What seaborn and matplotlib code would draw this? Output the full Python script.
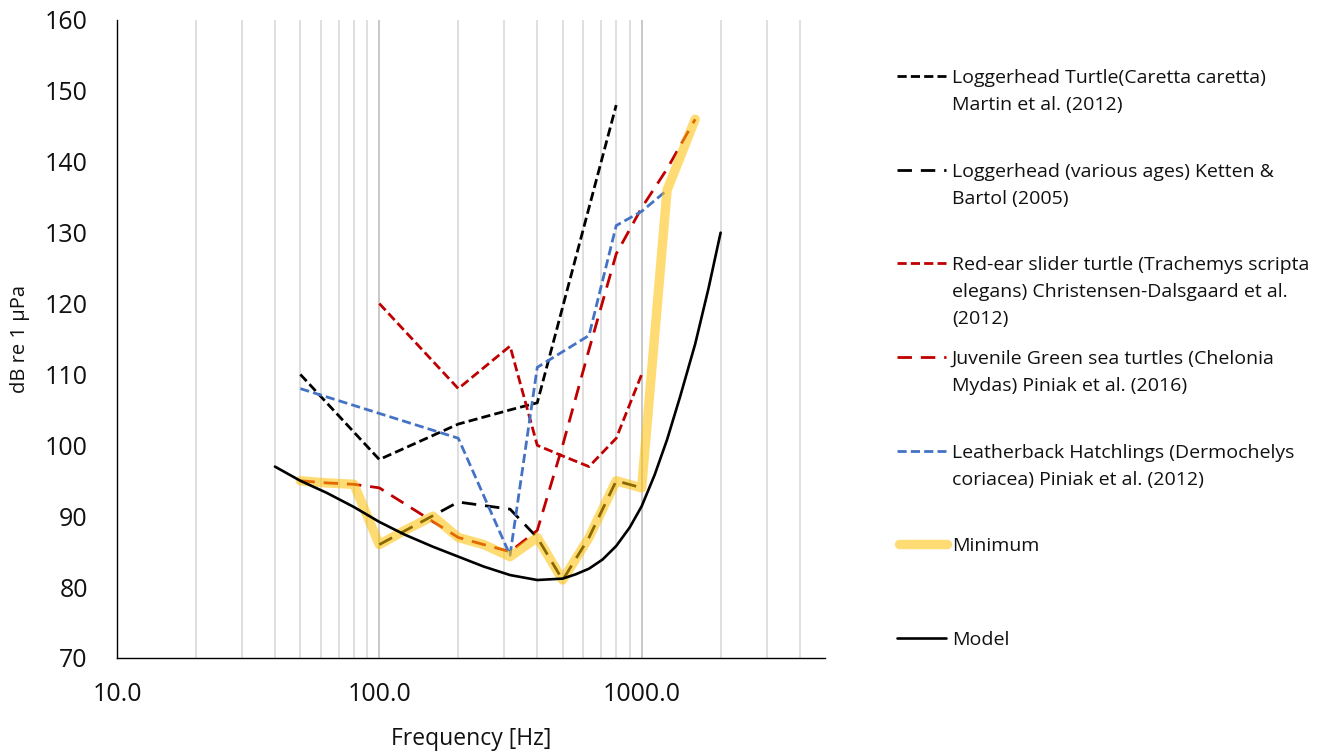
import numpy as np
import pandas as pd
import matplotlib
matplotlib.use("Agg")
import matplotlib.pyplot as plt
from matplotlib.lines import Line2D
import seaborn as sns

# hearing thresholds (1/3 octave frequencies, Hz) and levels (dB re 1 uPa)
martin_f = [50, 100, 200, 315, 400, 800]
martin_db = [110, 98, 103, 105, 106, 148]

ketten_f = [100, 200, 315, 400, 500, 630, 800, 1000]
ketten_db = [86, 92, 91, 87, 81, 87, 95, 94]

redear_f = [100, 200, 315, 400, 500, 630, 800, 1000]
redear_db = [120, 108, 114, 100, 98.5, 97, 101, 110]

green_f = [50, 63, 80, 100, 200, 250, 315, 400, 500, 630, 800, 1000, 1250, 1600]
green_db = [95, 94.7, 94.5, 94, 87, 86, 85, 88, 100, 113.5, 127, 133.5, 139, 146]

leather_f = [50, 100, 200, 315, 400, 630, 800, 1000, 1250]
leather_db = [108, 104.5, 101, 84.5, 111, 115.5, 131, 133, 136]

minimum_f = [50, 63, 80, 100, 125, 160, 200, 250, 315, 400, 500, 630, 800, 1000, 1250, 1600]
minimum_db = [95, 94.7, 94.5, 86, 88, 90, 87, 86, 84.3, 87, 81, 87, 95, 94, 136, 146]

model_f = [40, 50, 63, 80, 100, 125, 160, 200, 250, 315, 400, 500, 560, 630, 710, 800,
           900, 1000, 1120, 1250, 1400, 1600, 1800, 2000]
model_db = [97, 95, 93.3, 91.3, 89.2, 87.4, 85.7, 84.3, 82.9, 81.7, 81.0, 81.2, 81.8, 82.6,
            83.9, 85.8, 88.4, 91.4, 95.8, 100.8, 106.8, 114.3, 122.2, 130]

labels = [
    ["Loggerhead Turtle(Caretta caretta)", "Martin et al. (2012)"],
    ["Loggerhead (various ages) Ketten &", "Bartol (2005)"],
    ["Red-ear slider turtle (Trachemys scripta", "elegans) Christensen-Dalsgaard et al.", "(2012)"],
    ["Juvenile Green sea turtles (Chelonia", "Mydas) Piniak et al. (2016)"],
    ["Leatherback Hatchlings (Dermochelys", "coriacea) Piniak et al. (2012)"],
    ["Minimum"],
    ["Model"],
]

sns.set_style("white")
plt.rcParams['font.family'] = ['Open Sans', 'DejaVu Sans']

W, H = 1332, 751
fig = plt.figure(figsize=(W / 100, H / 100), dpi=100)
ax = fig.add_axes([117 / W, 1 - 658 / H, (825 - 117) / W, (658 - 20) / H])
ax.set_xscale('log')

short = (0, (3.3, 1.5))
long_ = (0, (5.2, 3.2))
gold = '#FFC000'

styles = [
    dict(color='black', lw=2.0, linestyle=short),
    dict(color='black', lw=2.0, linestyle=long_),
    dict(color='#C00000', lw=2.0, linestyle=short),
    dict(color='#C00000', lw=2.0, linestyle=long_),
    dict(color='#4472C4', lw=2.0, linestyle=short),
    dict(color=gold, lw=6.8, linestyle='-', alpha=0.55, solid_capstyle='round',
         solid_joinstyle='round'),
    dict(color='black', lw=1.9, linestyle='-'),
]
series = [(martin_f, martin_db), (ketten_f, ketten_db), (redear_f, redear_db),
          (green_f, green_db), (leather_f, leather_db), (minimum_f, minimum_db),
          (model_f, model_db)]

for i, ((f, db), st) in enumerate(zip(series, styles)):
    df = pd.DataFrame({'f': f, 'db': db})
    sns.lineplot(data=df, x='f', y='db', ax=ax, estimator=None, zorder=3 + i, **st)

ax.set_xlim(10, 5000)
ax.set_ylim(70, 160)
ax.set_yticks(np.arange(70, 161, 10))
ax.set_xticks([10, 100, 1000])
ax.set_xticklabels(['10.0', '100.0', '1000.0'])
minor = [m * d for d in (10, 100, 1000) for m in range(2, 10) if m * d < 5000]
ax.set_xticks(minor, minor=True)
ax.grid(False)
ax.grid(True, which='minor', axis='x', color='#D9D9D9', lw=1.2, zorder=0)
ax.grid(True, which='major', axis='x', color='#BFBFBF', lw=1.2, zorder=0)
ax.set_axisbelow(True)

for s in ['top', 'right']:
    ax.spines[s].set_visible(False)
for s in ['left', 'bottom']:
    ax.spines[s].set_color('black')
    ax.spines[s].set_linewidth(1.0)

ax.tick_params(axis='y', direction='in', length=6, width=1, color='black',
               labelsize=18, pad=21, labelcolor='#111111')
ax.tick_params(axis='x', which='major', direction='in', length=7, width=1, color='black',
               labelsize=18, pad=17, labelcolor='#111111')
ax.tick_params(axis='x', which='minor', length=0)

ax.set_xlabel('Frequency [Hz]', fontsize=16.5, color='#111111', va='center')
ax.xaxis.set_label_coords(0.5, -(739 - 658) / 638)
ax.set_ylabel('dB re 1 µPa', fontsize=14.5, color='#111111', va='center')
ax.yaxis.set_label_coords(-(117 - 20) / 708, 0.5)

# legend drawn by hand so the handle sits on the first text line
entry_y = [76, 170, 263, 357, 451, 544, 638]
for st, lab, y0 in zip(styles, labels, entry_y):
    x0, x1 = 897, 946
    if st['lw'] > 5:
        x0, x1 = 899, 947
    ln = Line2D([x0 / W, x1 / W], [1 - y0 / H, 1 - y0 / H], transform=fig.transFigure,
                **{k: v for k, v in st.items()})
    fig.add_artist(ln)
    for j, line in enumerate(lab):
        fig.text(952 / W, 1 - (y0 + 27 * j) / H, line, fontsize=14, color='#111111',
                 va='center_baseline', ha='left')

fig.savefig('out.png', dpi=100)
